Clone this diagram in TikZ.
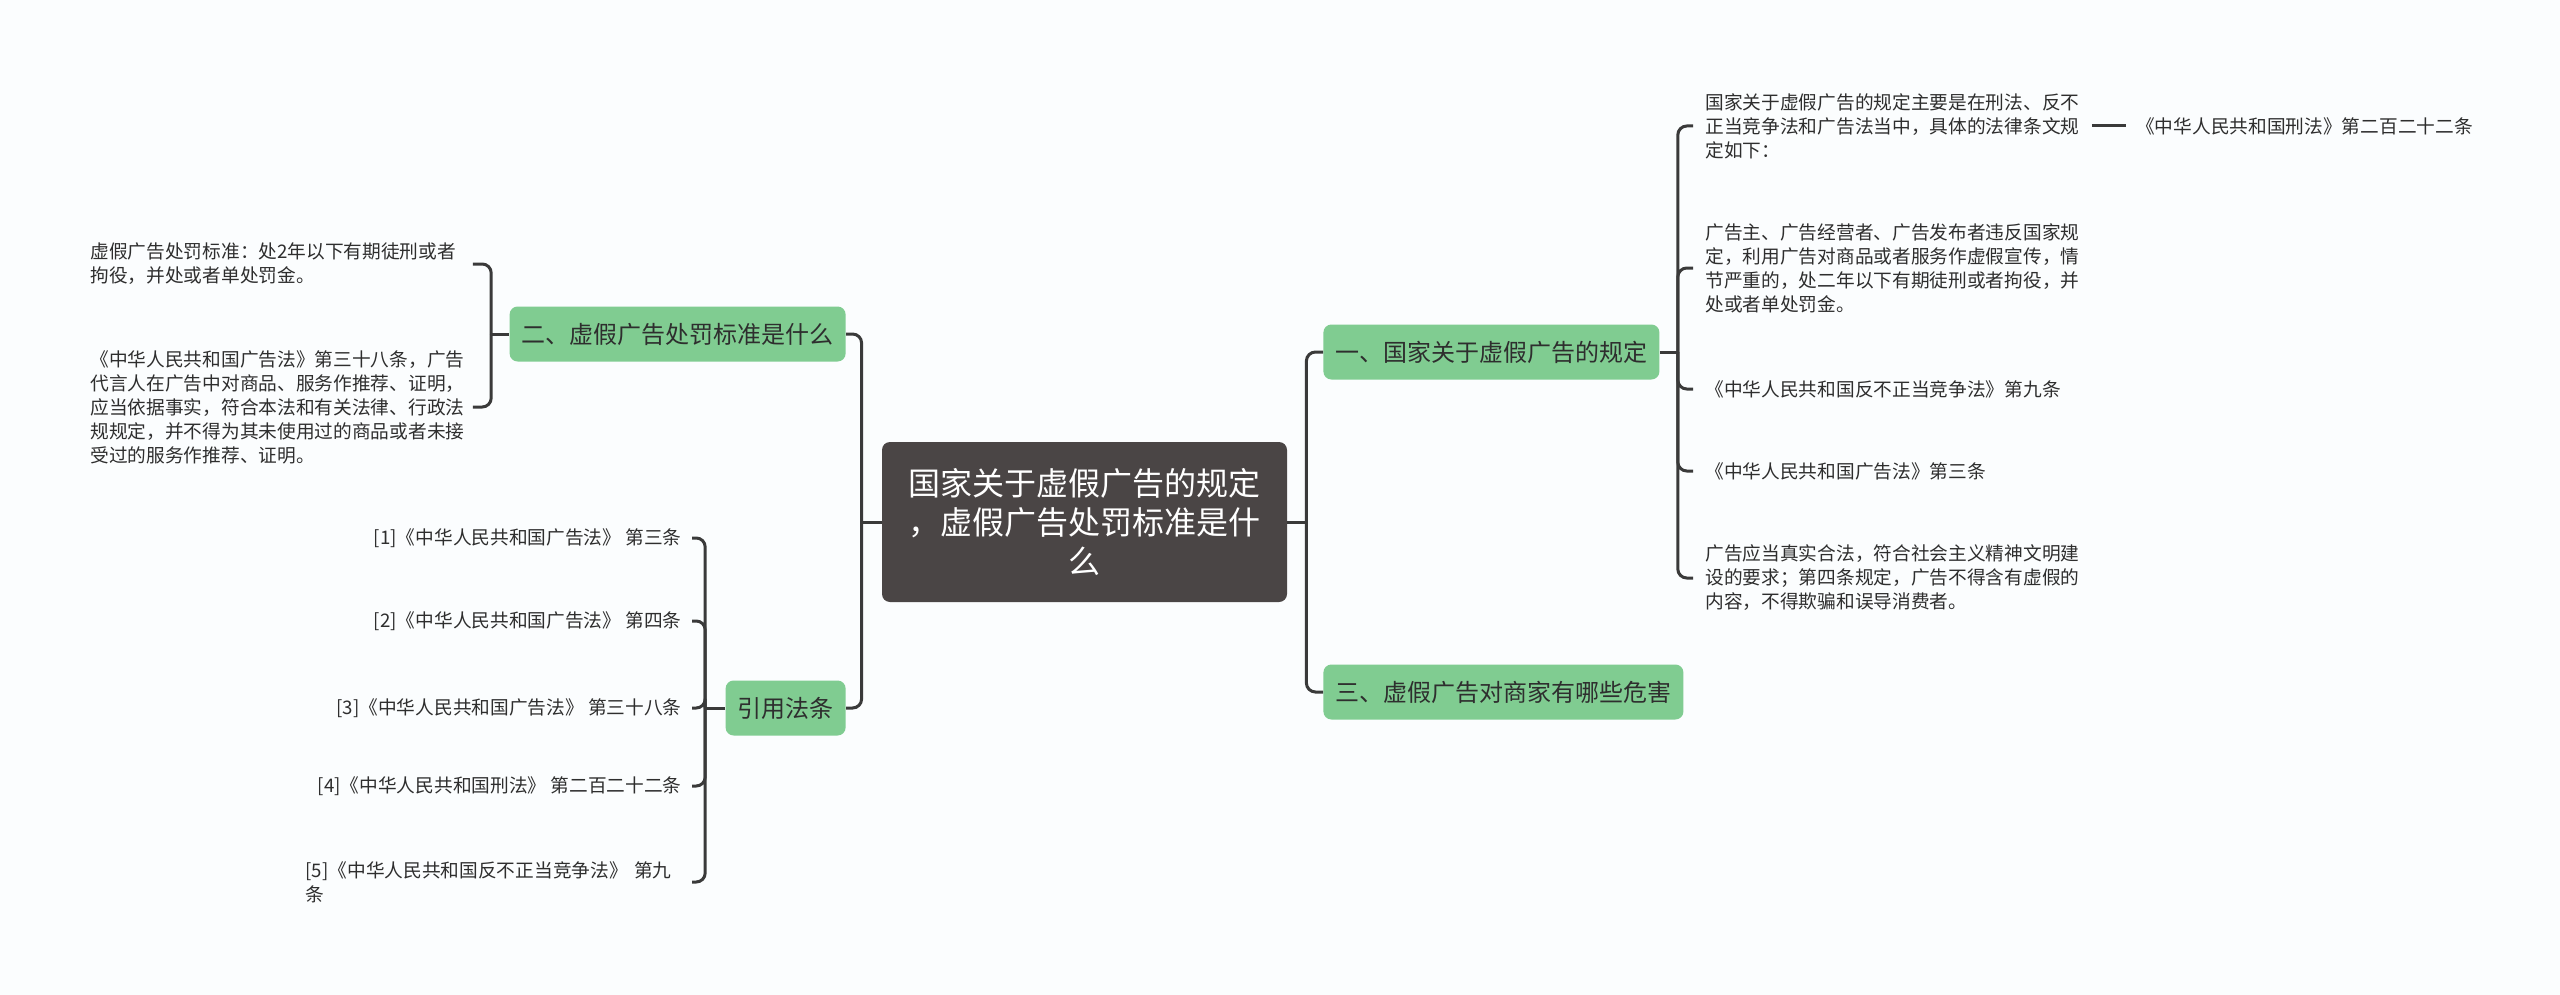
\documentclass[tikz,border=0pt]{standalone}
\usepackage{fontspec}
\setmainfont{Noto Sans CJK SC}
\usepackage{tikz}
\usetikzlibrary{positioning}
\definecolor{mapbg}{HTML}{FBFDFE}
\definecolor{rootgray}{HTML}{4A4545}
\definecolor{topicgreen}{HTML}{80CC91}
\definecolor{linegray}{HTML}{3A3A3A}
\definecolor{textgray}{HTML}{2E2E2E}

\begin{document}
\begin{tikzpicture}[x=0.5pt, y=-0.5pt,
        rootbox/.style={rectangle, fill=rootgray, rounded corners=4pt, text=white, align=center, minimum width=202.5pt, minimum height=80pt, font=\fontsize{16}{19.5}\selectfont},
        topic/.style={rectangle, fill=topicgreen, rounded corners=4pt, text=textgray, minimum height=27.5pt, inner xsep=6pt, font=\fontsize{12}{14}\selectfont},
        leaf/.style={text=textgray, align=left, text width=188pt, inner xsep=3pt, inner ysep=2pt, font=\fontsize{9.35}{12}\selectfont},
        reftext/.style={text=textgray, inner xsep=3pt, font=\fontsize{9.35}{12}\selectfont},
        conn/.style={draw=linegray, line width=1.5pt, rounded corners=4.5pt}]

        \useasboundingbox (0,0) rectangle (2560,995);
        \fill[mapbg] (0,0) rectangle (2560,995);

        \node [rootbox] (root) at (1084.5,522) {国家关于虚假广告的规定\\，虚假广告处罚标准是什\\么};

        % right side
        \node [topic, anchor=west] (rules) at (1323,352) {一、国家关于虚假广告的规定};
        \node [topic, anchor=west] (harm) at (1323,692) {三、虚假广告对商家有哪些危害};

        \node [leaf, anchor=west] (law) at (1699,126) {国家关于虚假广告的规定主要是在刑法、反不\\正当竞争法和广告法当中，具体的法律条文规\\定如下：};
        \node [reftext, right=21pt of law] (criminal) {《中华人民共和国刑法》第二百二十二条};
        \node [leaf, anchor=west] (advertiser) at (1699,268) {广告主、广告经营者、广告发布者违反国家规\\定，利用广告对商品或者服务作虚假宣传，情\\节严重的，处二年以下有期徒刑或者拘役，并\\处或者单处罚金。};
        \node [leaf, anchor=west] (unfair) at (1699,389) {《中华人民共和国反不正当竞争法》第九条};
        \node [leaf, anchor=west] (adlaw) at (1699,471) {《中华人民共和国广告法》第三条};
        \node [leaf, anchor=west] (truth) at (1699,578) {广告应当真实合法，符合社会主义精神文明建\\设的要求；第四条规定，广告不得含有虚假的\\内容，不得欺骗和误导消费者。};

        % left side
        \node [topic, anchor=east] (penalty) at (846,334) {二、虚假广告处罚标准是什么};
        \node [topic, anchor=east] (cited) at (846,708) {引用法条};

        \node [leaf, anchor=west] (standard) at (84,264) {虚假广告处罚标准：处2年以下有期徒刑或者\\拘役，并处或者单处罚金。};
        \node [leaf, anchor=west] (endorser) at (84,407) {《中华人民共和国广告法》第三十八条，广告\\代言人在广告中对商品、服务作推荐、证明，\\应当依据事实，符合本法和有关法律、行政法\\规规定，并不得为其未使用过的商品或者未接\\受过的服务作推荐、证明。};

        \node [reftext, anchor=east] (refa) at (688,538) {[1]《中华人民共和国广告法》 第三条};
        \node [reftext, anchor=east] (refb) at (688,621) {[2]《中华人民共和国广告法》 第四条};
        \node [reftext, anchor=east] (refc) at (688,708) {[3]《中华人民共和国广告法》 第三十八条};
        \node [reftext, anchor=east] (refd) at (688,786) {[4]《中华人民共和国刑法》 第二百二十二条};
        \node [leaf, anchor=east] (refe) at (688,882) {[5]《中华人民共和国反不正当竞争法》 第九\\条};

        % connectors
        \draw [conn] (root.east) -- ++(19,0) coordinate (rj);
        \draw [conn] (rj) |- (rules.west);
        \draw [conn] (rj) |- (harm.west);
        \draw [conn] (root.west) -- ++(-20,0) coordinate (lj);
        \draw [conn] (lj) |- (penalty.east);
        \draw [conn] (lj) |- (cited.east);

        \draw [conn] (rules.east) -- ++(18,0) coordinate (rulesj);
        \foreach \n in {law, advertiser, unfair, adlaw, truth}
            \draw [conn, shorten >=3pt] (rulesj) |- (\n.west);
        \draw [conn, shorten <=2pt, shorten >=2pt] (law) -- (criminal);

        \draw [conn] (penalty.west) -- ++(-18,0) coordinate (penaltyj);
        \draw [conn] (penaltyj) |- (standard.east);
        \draw [conn] (penaltyj) |- (endorser.east);

        \draw [conn] (cited.west) -- ++(-20,0) coordinate (citedj);
        \foreach \n in {refa, refb, refc, refd, refe}
            \draw [conn, shorten >=2pt] (citedj) |- (\n.east);
    \end{tikzpicture}
\end{document}
